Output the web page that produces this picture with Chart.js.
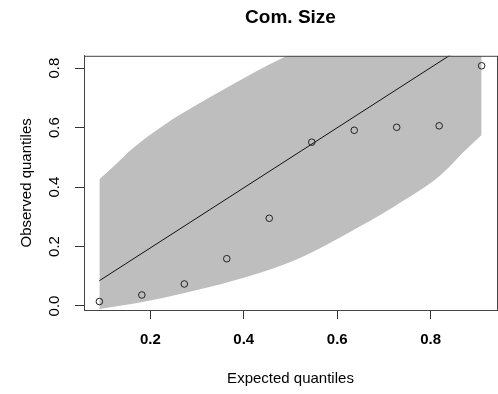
<!DOCTYPE html>
<html>
<head>
<meta charset="utf-8">
<script src="https://cdn.jsdelivr.net/npm/chart.js@4"></script>
<style>
  html, body { margin: 0; padding: 0; background: #fff; overflow: hidden; }
  #wrap { width: 502px; height: 394px; }
</style>
</head>
<body>
<div id="wrap"><canvas id="qq" width="502" height="394"></canvas></div>
<script>
// expected vs observed quantiles
const expected = [0.0909, 0.1818, 0.2727, 0.3636, 0.4545, 0.5455, 0.6364, 0.7273, 0.8182, 0.9091];
const observed = [0.015, 0.037, 0.074, 0.159, 0.295, 0.551, 0.591, 0.601, 0.606, 0.808];

// reference line
const lineX = [0.0909, 0.9091];
const lineY = [0.085, 0.912];

// envelope
const upperX = [0.0909, 0.129, 0.158, 0.235, 0.292, 0.370, 0.426, 0.483, 0.545, 0.636, 0.727, 0.818, 0.9091];
const upperY = [0.426, 0.481, 0.525, 0.615, 0.670, 0.740, 0.789, 0.834, 0.88, 0.93, 0.97, 1.0, 1.02];
const lowerX = [0.0909, 0.186, 0.271, 0.377, 0.483, 0.545, 0.651, 0.722, 0.821, 0.871, 0.9091];
const lowerY = [-0.01, 0.0145, 0.043, 0.085, 0.138, 0.180, 0.270, 0.335, 0.440, 0.519, 0.575];

const xTicks = [0.2, 0.4, 0.6, 0.8];
const yTicks = [0.0, 0.2, 0.4, 0.6, 0.8];

const pts = (xs, ys) => xs.map((x, i) => ({ x: x, y: ys[i] }));

Chart.defaults.font.family = '"Liberation Sans", Arial, sans-serif';
Chart.defaults.color = '#000';

// R style box round the plot region
const boxPlugin = {
    id: 'box',
    afterDraw(chart) {
        const a = chart.chartArea;
        const c = chart.ctx;
        c.save();
        c.strokeStyle = '#444';
        c.lineWidth = 1;
        c.strokeRect(a.left + 0.5, a.top + 0.5, a.right - a.left, a.bottom - a.top);
        c.restore();
    }
};

new Chart(document.getElementById('qq'), {
    type: 'scatter',
    data: {
        datasets: [
            {
                type: 'line',
                data: pts(upperX, upperY),
                fill: '+1',
                backgroundColor: '#bebebe',
                borderWidth: 0,
                pointRadius: 0,
                cubicInterpolationMode: 'monotone',
                order: 3
            },
            {
                type: 'line',
                data: pts(lowerX, lowerY),
                fill: false,
                borderWidth: 0,
                borderColor: 'rgba(0,0,0,0)',
                pointRadius: 0,
                cubicInterpolationMode: 'monotone',
                order: 4
            },
            {
                type: 'line',
                data: pts(lineX, lineY),
                borderColor: '#111',
                borderWidth: 1,
                pointRadius: 0,
                fill: false,
                order: 2
            },
            {
                data: pts(expected, observed),
                showLine: false,
                pointStyle: 'circle',
                pointRadius: 3.3,
                borderColor: '#222',
                borderWidth: 1,
                backgroundColor: 'rgba(0,0,0,0)',
                order: 1
            }
        ]
    },
    options: {
        responsive: false,
        animation: false,
        layout: { padding: { left: 0, right: 2, top: 0, bottom: 0 } },
        plugins: {
            legend: { display: false },
            tooltip: { enabled: false },
            title: {
                display: true,
                text: 'Com. Size',
                fullSize: false,
                font: { size: 19, weight: 'bold' },
                color: '#000',
                padding: { top: 6, bottom: 27 }
            }
        },
        scales: {
            x: {
                type: 'linear',
                min: 0.058,
                max: 0.942,
                afterBuildTicks: s => { s.ticks = xTicks.map(v => ({ value: v })); },
                afterFit: s => { s.height = 84; },
                ticks: {
                    font: { size: 15, weight: 'bold' },
                    color: '#000',
                    padding: 12,
                    maxRotation: 0,
                    callback: v => v.toFixed(1)
                },
                grid: { drawOnChartArea: false, tickLength: 9, color: '#333' },
                border: { color: '#444' },
                title: {
                    display: true,
                    text: 'Expected quantiles',
                    font: { size: 15 },
                    color: '#000',
                    padding: { top: 0, bottom: 6 }
                }
            },
            y: {
                type: 'linear',
                min: -0.0135,
                max: 0.8415,
                afterBuildTicks: s => { s.ticks = yTicks.map(v => ({ value: v })); },
                afterFit: s => { s.width = 84; },
                ticks: {
                    font: { size: 15 },
                    color: '#000',
                    padding: 10,
                    minRotation: 90,
                    maxRotation: 90,
                    crossAlign: 'center',
                    callback: v => v.toFixed(1)
                },
                grid: { drawOnChartArea: false, tickLength: 9, color: '#333' },
                border: { color: '#444' },
                title: {
                    display: true,
                    text: 'Observed quantiles',
                    font: { size: 15 },
                    color: '#000',
                    padding: { top: 18, bottom: 0 }
                }
            }
        }
    },
    plugins: [boxPlugin]
});
</script>
</body>
</html>
